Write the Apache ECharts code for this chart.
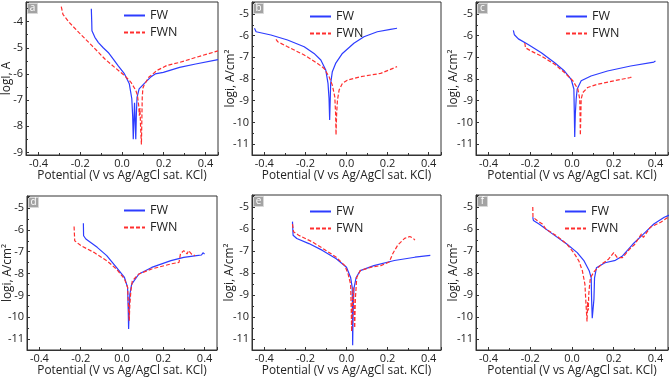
<!DOCTYPE html>
<html>
<head>
<meta charset="utf-8">
<script src="https://cdn.jsdelivr.net/npm/echarts@6/dist/echarts.min.js"></script>
<style>
html, body { margin: 0; padding: 0; background: #fff; }
#chart { width: 669px; height: 377px; }
</style>
</head>
<body>
<div id="chart"></div>
<script>
// potential (V) / log current pairs
var potRange = [-0.46, 0.46];
var logRangeA = [-9.1, -3.25];
var logRange = [-11.5, -4.45];
var letters = ['a', 'b', 'c', 'd', 'e', 'f'];
var seriesNames = ['FW', 'FWN'];
var xName = 'Potential (V vs Ag/AgCl sat. KCl)';
var yNameA = 'logI, A';
var yName = 'logi, A/cm²';

var fwA = [[-0.147,-3.51],[-0.145,-4.0],[-0.144,-4.35],[-0.13,-4.6],[-0.113,-4.8],[-0.09,-5.0],[-0.066,-5.18],[-0.04,-5.45],[-0.019,-5.68],[0.012,-6.0],[0.035,-6.38],[0.047,-6.95],[0.051,-7.6],[0.054,-8.5],[0.057,-7.8],[0.06,-7.1],[0.063,-7.8],[0.066,-8.5],[0.069,-7.5],[0.072,-6.9],[0.082,-6.57],[0.105,-6.38],[0.136,-6.13],[0.159,-6.0],[0.198,-5.94],[0.276,-5.75],[0.353,-5.62],[0.46,-5.45]];
var fwnA = [[-0.291,-3.43],[-0.283,-3.72],[-0.252,-4.04],[-0.206,-4.42],[-0.144,-4.92],[-0.082,-5.43],[-0.035,-5.75],[0.012,-6.06],[0.043,-6.32],[0.066,-6.63],[0.074,-6.82],[0.08,-7.2],[0.083,-7.6],[0.086,-7.3],[0.089,-8.0],[0.093,-8.7],[0.095,-7.8],[0.097,-6.9],[0.1,-6.55],[0.105,-6.44],[0.128,-6.13],[0.167,-5.87],[0.214,-5.68],[0.276,-5.56],[0.353,-5.37],[0.46,-5.12]];

var fwB = [[-0.448,-5.66],[-0.44,-5.82],[-0.368,-5.97],[-0.287,-6.2],[-0.206,-6.51],[-0.158,-6.82],[-0.125,-7.12],[-0.101,-7.58],[-0.09,-8.2],[-0.085,-8.9],[-0.082,-9.89],[-0.079,-8.9],[-0.077,-8.2],[-0.069,-7.66],[-0.053,-7.28],[-0.02,-6.82],[0.036,-6.35],[0.085,-6.05],[0.15,-5.82],[0.214,-5.71],[0.246,-5.66]];
var fwnB = [[-0.343,-6.17],[-0.335,-6.28],[-0.287,-6.51],[-0.206,-6.89],[-0.141,-7.28],[-0.109,-7.51],[-0.085,-7.89],[-0.069,-8.28],[-0.057,-8.82],[-0.053,-9.6],[-0.051,-10.58],[-0.048,-9.6],[-0.044,-8.97],[-0.036,-8.51],[-0.02,-8.2],[0.004,-8.05],[0.069,-7.89],[0.166,-7.74],[0.246,-7.43]];

var fwC = [[-0.281,-5.76],[-0.276,-5.96],[-0.257,-6.15],[-0.21,-6.41],[-0.147,-6.79],[-0.083,-7.25],[-0.036,-7.63],[-0.004,-8.01],[0.009,-8.46],[0.011,-9.5],[0.013,-10.67],[0.016,-9.6],[0.02,-8.92],[0.025,-8.46],[0.044,-8.08],[0.091,-7.86],[0.17,-7.63],[0.281,-7.4],[0.392,-7.22],[0.4,-7.17]];
var fwnC = [[-0.226,-6.34],[-0.223,-6.56],[-0.194,-6.72],[-0.147,-6.94],[-0.083,-7.32],[-0.036,-7.7],[0.004,-8.08],[0.028,-8.46],[0.037,-8.92],[0.039,-9.8],[0.04,-10.59],[0.042,-9.8],[0.044,-8.92],[0.052,-8.62],[0.075,-8.39],[0.123,-8.24],[0.202,-8.08],[0.281,-7.93],[0.289,-7.86]];

var fwD = [[-0.187,-5.7],[-0.186,-6.27],[-0.175,-6.42],[-0.12,-6.8],[-0.074,-7.18],[-0.027,-7.72],[0.012,-8.18],[0.027,-8.63],[0.03,-9.6],[0.032,-10.54],[0.035,-9.6],[0.038,-8.94],[0.047,-8.48],[0.082,-8.02],[0.144,-7.72],[0.237,-7.41],[0.299,-7.26],[0.361,-7.18],[0.385,-7.15],[0.392,-7.05],[0.4,-7.1]];
var fwnD = [[-0.232,-5.85],[-0.229,-6.5],[-0.198,-6.73],[-0.136,-7.03],[-0.074,-7.41],[-0.027,-7.79],[0.012,-8.25],[0.027,-8.63],[0.031,-9.4],[0.035,-10.16],[0.038,-9.4],[0.043,-8.79],[0.05,-8.33],[0.082,-8.02],[0.144,-7.79],[0.237,-7.56],[0.276,-7.49],[0.283,-7.1],[0.299,-6.95],[0.315,-7.1],[0.322,-6.95],[0.338,-7.12],[0.353,-7.18]];

var fwE = [[-0.263,-5.66],[-0.26,-6.28],[-0.242,-6.43],[-0.183,-6.66],[-0.117,-6.97],[-0.05,-7.35],[0.0,-7.74],[0.02,-8.2],[0.028,-8.66],[0.029,-10.0],[0.03,-11.28],[0.032,-10.0],[0.034,-9.2],[0.037,-8.66],[0.047,-8.2],[0.067,-7.89],[0.133,-7.66],[0.233,-7.43],[0.333,-7.28],[0.408,-7.2]];
var fwnE = [[-0.263,-5.77],[-0.258,-6.12],[-0.233,-6.28],[-0.167,-6.58],[-0.1,-6.97],[-0.05,-7.28],[-0.008,-7.66],[0.008,-8.05],[0.02,-8.51],[0.023,-9.6],[0.025,-10.66],[0.029,-9.4],[0.033,-8.66],[0.037,-9.8],[0.04,-10.5],[0.043,-9.2],[0.05,-8.2],[0.067,-7.89],[0.117,-7.74],[0.167,-7.66],[0.208,-7.5],[0.225,-7.12],[0.25,-6.72],[0.283,-6.42],[0.308,-6.34],[0.325,-6.42],[0.333,-6.5]];

var fwF = [[-0.188,-5.46],[-0.185,-5.61],[-0.158,-5.77],[-0.092,-6.23],[-0.025,-6.68],[0.025,-7.07],[0.058,-7.45],[0.083,-7.91],[0.092,-8.22],[0.094,-9.2],[0.097,-10.05],[0.103,-10.05],[0.105,-9.2],[0.108,-8.22],[0.117,-7.76],[0.158,-7.53],[0.208,-7.42],[0.242,-7.22],[0.292,-6.68],[0.342,-6.23],[0.392,-5.77],[0.442,-5.46],[0.483,-5.3]];
var fwnF = [[-0.188,-5.0],[-0.187,-5.46],[-0.167,-5.61],[-0.142,-5.77],[-0.125,-6.0],[-0.075,-6.3],[-0.025,-6.68],[0.008,-7.07],[0.033,-7.45],[0.05,-7.91],[0.062,-8.52],[0.067,-9.4],[0.072,-10.2],[0.075,-9.3],[0.078,-9.7],[0.08,-9.0],[0.083,-8.67],[0.088,-8.22],[0.108,-7.91],[0.142,-7.6],[0.175,-7.37],[0.2,-7.07],[0.217,-7.3],[0.242,-7.3],[0.275,-6.92],[0.3,-6.7],[0.317,-6.45],[0.333,-6.22],[0.342,-6.38],[0.375,-5.92],[0.425,-5.69],[0.483,-5.31]];

var fwData = [fwA, fwB, fwC, fwD, fwE, fwF];
var fwnData = [fwnA, fwnB, fwnC, fwnD, fwnE, fwnF];

// layout of the 2x3 panels
var grids = [
	{ left: 26, top: 2, width: 192, height: 153 },
	{ left: 252, top: 2, width: 189, height: 153 },
	{ left: 476, top: 2, width: 192, height: 153 },
	{ left: 27, top: 196, width: 190, height: 154 },
	{ left: 252, top: 195, width: 189, height: 155 },
	{ left: 476, top: 195, width: 192, height: 155 }
];
var legendPos = [[123, 9], [309, 10], [565, 10], [123, 204], [309, 205], [564, 205]];
var yNameGaps = [13, 15.5, 16.5, 13.5, 16, 16.5];

var font = 'Open Sans';
var textColor = '#222';
var blue = '#2d3cff';
var red = '#ff2e2e';

var option = {
	backgroundColor: '#fff',
	animation: false,
	grid: [],
	xAxis: [],
	yAxis: [],
	legend: [],
	series: [],
	graphic: []
};

for (var i = 0; i < 6; i++) {
	var g = grids[i];
	option.grid.push({
		left: g.left, top: g.top, width: g.width, height: g.height,
		show: true, borderColor: '#333', borderWidth: 1,
		backgroundColor: 'transparent',
		containLabel: false,
		outerBoundsMode: 'none'
	});
	option.xAxis.push({
		type: 'value',
		gridIndex: i,
		min: potRange[0],
		max: potRange[1],
		name: xName,
		nameLocation: 'middle',
		nameGap: 15,
		nameMoveOverlap: false,
		nameTextStyle: { fontFamily: font, fontSize: 11.8, color: textColor },
		axisLine: { onZero: false, lineStyle: { color: '#333', width: 1 } },
		axisTick: { inside: true, length: 3, lineStyle: { color: '#333' } },
		minorTick: { show: true, splitNumber: 2, length: 2, lineStyle: { color: '#333' } },
		splitLine: { show: false },
		axisLabel: {
			fontFamily: font, fontSize: 11, color: textColor, margin: 3,
			showMinLabel: false, showMaxLabel: false,
			formatter: function (v) { return v.toFixed(1); }
		}
	});
	var yr = i === 0 ? logRangeA : logRange;
	option.yAxis.push({
		type: 'value',
		gridIndex: i,
		min: yr[0],
		max: yr[1],
		name: i === 0 ? yNameA : yName,
		nameLocation: 'middle',
		nameGap: yNameGaps[i],
		nameMoveOverlap: false,
		nameTextStyle: { fontFamily: font, fontSize: 11.8, color: textColor },
		axisLine: { onZero: false, lineStyle: { color: '#333', width: 1 } },
		axisTick: { inside: true, length: 3, lineStyle: { color: '#333' } },
		minorTick: { show: true, splitNumber: 2, length: 2, lineStyle: { color: '#333' } },
		splitLine: { show: false },
		axisLabel: {
			fontFamily: font, fontSize: 11, color: textColor, margin: 3,
			showMinLabel: false, showMaxLabel: false
		}
	});
	option.legend.push({
		data: seriesNames,
		orient: 'vertical',
		left: legendPos[i][0],
		top: legendPos[i][1],
		padding: 0,
		itemWidth: 21,
		itemHeight: 12,
		itemGap: 4,
		selectedMode: false,
		itemStyle: { opacity: 0 },
		textStyle: { fontFamily: font, fontSize: 12.5, color: textColor }
	});
	option.series.push({
		name: seriesNames[0],
		type: 'line',
		xAxisIndex: i,
		yAxisIndex: i,
		data: fwData[i],
		symbol: 'none',
		lineStyle: { color: blue, width: 1.2 },
		itemStyle: { color: blue }
	});
	option.series.push({
		name: seriesNames[1],
		type: 'line',
		xAxisIndex: i,
		yAxisIndex: i,
		data: fwnData[i],
		symbol: 'none',
		lineStyle: { color: red, width: 1.2, type: [4, 2] },
		itemStyle: { color: red }
	});
	// panel letter badge
	option.graphic.push({
		type: 'group',
		left: g.left + 1,
		top: g.top + 1,
		children: [{
			type: 'rect',
			shape: { x: 0, y: 0, width: 10, height: 10 },
			style: { fill: '#a3a3a3', stroke: '#d8d8d8', lineWidth: 1 }
		}, {
			type: 'text',
			x: 5, y: 5,
			style: {
				text: letters[i], fill: '#fff', font: '10px "' + font + '"',
				align: 'center', verticalAlign: 'middle'
			}
		}]
	});
}

var myChart = echarts.init(document.getElementById('chart'));
myChart.setOption(option);
</script>
</body>
</html>
